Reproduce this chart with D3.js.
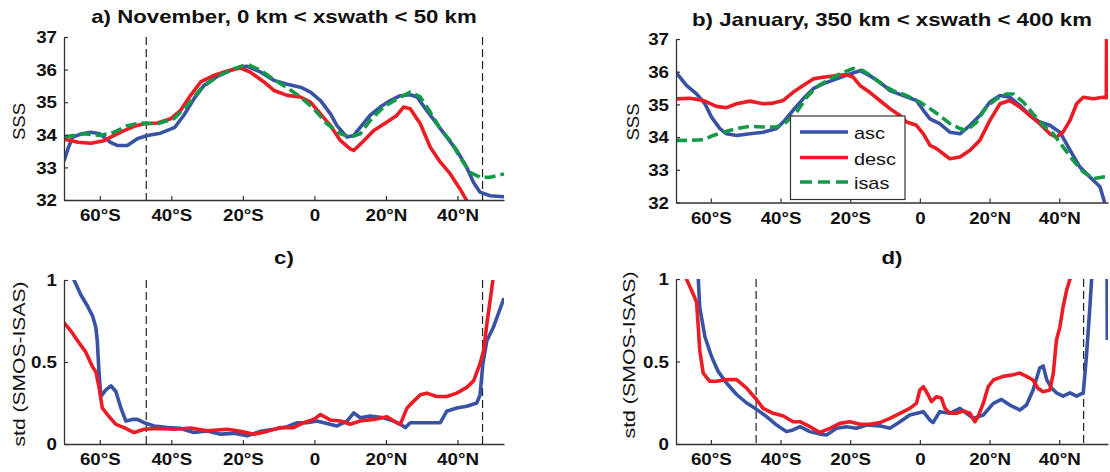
<!DOCTYPE html>
<html lang="en"><head>
<meta charset="utf-8">
<title>SSS asc/desc</title>
<script src="https://cdn.jsdelivr.net/npm/d3@7"></script>
<style>
body { margin: 0; background: #fff; }
text { font-family: "Liberation Sans", Arial, sans-serif; fill: #111; }
</style>
</head>
<body>
<script type="text/javascript">

var width = 1110;
var height = 472;

// tick values / labels
var xTicks = [-60, -40, -20, 0, 20, 40];
var xTickLabels = ["60°S", "40°S", "20°S", "0", "20°N", "40°N"];
var sssTicks = [32, 33, 34, 35, 36, 37];
var sssTickLabels = ["32", "33", "34", "35", "36", "37"];
var stdTicks = [0, 0.5, 1];
var stdTickLabels = ["0", "0.5", "1"];
var seriesNames = ["asc", "desc", "isas"];
var frontLats = [-47, 47];

// a) November SSS  [lat, value]
var novSssAsc = [[-70,33.2],[-68.8,33.6],[-67.6,33.93],[-65,34.03],[-62.5,34.08],[-60,34.03],[-57,33.77],[-55,33.67],[-52.3,33.67],[-49.5,33.88],[-46.7,33.98],[-43,34.05],[-39,34.23],[-36.5,34.6],[-33.7,35.1],[-30.9,35.51],[-27.2,35.79],[-23.4,35.98],[-20.7,36.08],[-18.8,36.1],[-15,35.92],[-11.3,35.67],[-7.6,35.55],[-3.9,35.46],[-1.1,35.31],[1.7,35.05],[4.5,34.64],[6.3,34.28],[9.1,33.93],[11,33.98],[12.8,34.23],[15.6,34.6],[18.4,34.85],[21.2,35.05],[24,35.2],[26.8,35.23],[28.7,35.16],[31.4,34.75],[34.2,34.34],[37,33.93],[39.8,33.52],[42.6,33.0],[44.5,32.54],[46.3,32.24],[49.1,32.13],[53,32.1]];
var novSssDesc = [[-70,33.87],[-66,33.77],[-62.5,33.74],[-58.8,33.82],[-56,33.98],[-53.2,34.13],[-50.4,34.26],[-47.6,34.34],[-43.9,34.36],[-40.2,34.49],[-37.4,34.75],[-34.6,35.21],[-31.8,35.62],[-28.1,35.82],[-24.4,35.96],[-20.7,36.05],[-17.9,35.92],[-14.1,35.62],[-11.3,35.36],[-7.6,35.21],[-3.9,35.16],[-1.1,35.0],[1.7,34.64],[4.5,34.28],[7.3,33.82],[10,33.57],[11,33.52],[13.8,33.82],[16.6,34.13],[20.3,34.39],[23.1,34.6],[24.9,34.85],[26.8,34.8],[29.6,34.34],[32.4,33.62],[35.2,33.16],[38,32.8],[40.7,32.34],[42.6,31.98],[43.2,31.8]];
var novSssIsas = [[-70,33.93],[-64.4,34.03],[-60,33.98],[-56,34.08],[-52.3,34.28],[-48.6,34.36],[-43.9,34.34],[-39.3,34.49],[-35.5,34.9],[-31.8,35.41],[-27.2,35.79],[-22.5,36.03],[-18.8,36.16],[-15,35.98],[-11.3,35.69],[-7.6,35.44],[-3.9,35.16],[-0.2,34.8],[3.5,34.34],[7.3,34.03],[10,33.93],[12.8,34.03],[15.6,34.44],[19.3,34.85],[23.1,35.1],[26.8,35.31],[29.6,35.16],[32.4,34.69],[35.2,34.18],[38,33.82],[40.7,33.31],[43.5,32.85],[46.3,32.7],[49.1,32.7],[53,32.8]];

// b) January SSS
var janSssAsc = [[-70,35.98],[-67,35.58],[-64.1,35.32],[-61.7,35.02],[-59.8,34.61],[-57.4,34.26],[-55.5,34.1],[-52.6,34.05],[-48.8,34.1],[-45,34.15],[-41.1,34.26],[-38.8,34.51],[-36.4,34.82],[-33.5,35.17],[-30.6,35.48],[-27.8,35.63],[-23.9,35.78],[-20.1,35.93],[-17.2,36.03],[-14.4,35.88],[-11.5,35.68],[-8.6,35.42],[-4.8,35.27],[-1,35.12],[1,34.82],[2.9,34.56],[5.7,34.41],[8.6,34.15],[11.5,34.1],[14.4,34.36],[17.2,34.66],[20.1,35.07],[23,35.27],[25.8,35.22],[28.7,34.97],[31.6,34.66],[34.4,34.46],[37.3,34.36],[40.2,34.15],[43.1,33.6],[45.9,33.09],[48.8,32.78],[51.7,32.48],[53.1,31.97],[53.4,31.5]];
var janSssDesc = [[-70,35.17],[-66,35.19],[-62.2,35.12],[-58.4,34.94],[-55.5,34.9],[-52.6,35.02],[-48.8,35.1],[-45,35.02],[-42.1,35.04],[-39.2,35.12],[-36.4,35.37],[-33.5,35.58],[-30.6,35.78],[-27.8,35.83],[-23.9,35.88],[-21.1,35.91],[-19.1,35.83],[-17.2,35.58],[-14.4,35.37],[-11.5,35.12],[-8.6,34.87],[-5.7,34.66],[-3.8,34.46],[-1,34.36],[1,34.1],[2.9,33.75],[4.8,33.65],[6.7,33.49],[8.6,33.34],[11.5,33.39],[14.4,33.6],[17.2,33.9],[20.1,34.51],[23,35.02],[25.8,35.12],[28.7,34.92],[31.6,34.66],[34.4,34.41],[37.3,34.1],[39.2,34.0],[41.1,34.15],[43.1,34.51],[45,35.02],[46.9,35.22],[49.8,35.17],[52.6,35.22],[53.5,35.2],[53.6,37.5]];
var janSssIsas = [[-70,33.9],[-66,33.9],[-62.2,33.92],[-59.3,34.05],[-56.5,34.15],[-52.6,34.26],[-48.8,34.33],[-45,34.31],[-41.1,34.31],[-38.3,34.46],[-35.4,34.76],[-32.5,35.22],[-29.7,35.53],[-25.8,35.78],[-22,35.98],[-19.1,36.1],[-16.3,36.03],[-13.4,35.83],[-10.5,35.58],[-7.7,35.42],[-3.8,35.27],[0,35.07],[2.9,34.87],[5.7,34.66],[8.6,34.41],[11.5,34.26],[13.4,34.2],[16.3,34.46],[19.1,34.92],[22,35.17],[24.9,35.32],[26.8,35.32],[29.7,35.07],[32.5,34.71],[35.4,34.36],[38.3,34.1],[41.1,33.7],[44,33.29],[46.9,32.93],[49.8,32.73],[52.6,32.78],[54,32.8]];

// c) November std(SMOS-ISAS)
var novStdAsc = [[-70,1.2],[-67.2,1.0],[-65.3,0.91],[-63.4,0.84],[-62,0.78],[-61.1,0.71],[-60.7,0.63],[-60.2,0.43],[-59.7,0.29],[-58.3,0.33],[-56.9,0.355],[-55.5,0.32],[-54.1,0.22],[-52.7,0.14],[-50.9,0.15],[-49.5,0.15],[-47.6,0.13],[-44.8,0.11],[-41.1,0.10],[-37.4,0.095],[-33.7,0.07],[-30,0.08],[-26.2,0.06],[-22.5,0.065],[-18.8,0.05],[-15.1,0.077],[-11.3,0.09],[-7.6,0.105],[-4.8,0.13],[-2,0.13],[0.7,0.14],[3.5,0.125],[6.3,0.11],[9.1,0.14],[11,0.19],[12.8,0.16],[15.6,0.17],[19.3,0.16],[22.1,0.14],[24,0.12],[25.4,0.10],[26.8,0.13],[30.5,0.13],[35.2,0.13],[37,0.2],[39.8,0.22],[42.6,0.23],[45.4,0.25],[46.3,0.30],[47.1,0.49],[48.2,0.63],[50,0.71],[53,0.89]];
var novStdDesc = [[-70,0.74],[-68.1,0.69],[-66.2,0.63],[-63.9,0.56],[-62,0.47],[-61.1,0.44],[-60.2,0.345],[-59.3,0.22],[-57.9,0.18],[-55.5,0.12],[-53.2,0.10],[-50.4,0.07],[-47.6,0.09],[-43.9,0.095],[-39.3,0.09],[-34.6,0.097],[-30,0.08],[-24.4,0.09],[-20.7,0.077],[-16.9,0.06],[-13.2,0.077],[-9.5,0.1],[-5.8,0.1],[-3,0.13],[-0.2,0.15],[1.7,0.18],[4.5,0.146],[7.3,0.14],[10,0.12],[12.8,0.14],[16.6,0.15],[20.3,0.166],[23.1,0.13],[24,0.12],[25.9,0.22],[27.7,0.26],[29.6,0.30],[31.4,0.31],[34.2,0.29],[37,0.29],[39.8,0.31],[42.6,0.345],[44.5,0.385],[46.3,0.49],[47.3,0.57],[48.2,0.73],[49.1,0.87],[49.9,1.0],[50.3,1.15]];

// d) January std(SMOS-ISAS)
var janStdAsc = [[-63.8,1.1],[-63.6,1.0],[-63.2,0.83],[-61.7,0.65],[-59.8,0.53],[-57.9,0.44],[-55.5,0.37],[-52.6,0.30],[-49.8,0.25],[-46.9,0.21],[-44,0.166],[-41.1,0.115],[-38.3,0.075],[-36.4,0.085],[-34.4,0.105],[-31.6,0.075],[-28.7,0.06],[-26.8,0.055],[-23.9,0.095],[-21.1,0.105],[-18.2,0.095],[-15.3,0.115],[-11.5,0.11],[-8.6,0.095],[-5.7,0.135],[-2.9,0.176],[1,0.196],[2.9,0.145],[3.8,0.13],[5.7,0.196],[8.6,0.186],[11.5,0.216],[13.4,0.186],[15.3,0.155],[18.2,0.176],[21.1,0.246],[23.4,0.27],[25.8,0.236],[28.7,0.206],[30.6,0.236],[32.5,0.327],[34.4,0.46],[35.4,0.473],[36.4,0.39],[37.8,0.34],[39.2,0.31],[41.1,0.29],[43.1,0.31],[45,0.29],[46.9,0.31],[47.8,0.53],[48.8,0.83],[49.3,1.0],[49.6,1.2],[53.7,1.2],[53.8,0.63]];
var janStdDesc = [[-67.5,1.05],[-67,1.0],[-65.1,0.91],[-64.1,0.86],[-63.6,0.71],[-63.2,0.57],[-62.2,0.43],[-60.3,0.38],[-58.4,0.38],[-55.5,0.39],[-52.6,0.39],[-49.8,0.34],[-46.9,0.27],[-45,0.216],[-42.1,0.186],[-39.2,0.17],[-36.4,0.135],[-34.4,0.135],[-31.6,0.105],[-28.7,0.07],[-25.8,0.095],[-23,0.125],[-20.1,0.135],[-17.2,0.12],[-14.4,0.12],[-11.5,0.13],[-8.6,0.155],[-5.7,0.186],[-2.9,0.216],[-1,0.246],[0,0.327],[1,0.347],[2.4,0.297],[3.3,0.257],[4.8,0.287],[6.2,0.277],[7.2,0.216],[8.6,0.186],[10.5,0.186],[12.4,0.2],[14.4,0.186],[15.8,0.135],[16.7,0.166],[18.2,0.246],[19.6,0.347],[21.1,0.388],[23.9,0.41],[26.8,0.42],[28.7,0.43],[30.6,0.41],[32.5,0.388],[33.9,0.337],[35.4,0.317],[37.3,0.327],[38.3,0.43],[39.2,0.63],[40.2,0.71],[41.1,0.83],[42.1,0.93],[43.1,1.0],[43.5,1.1]];

var colors = {asc: "#3853a4", desc: "#ec1c24", isas: "#139a48"};
var STRETCH = 1.17; // the figure is a bit wider than tall

var panels = [
    {id: "a", x0: 64, x1: 504, y0: 37, y1: 200, xDom: [-70, 53], yDom: [32, 37],
     yTicks: sssTicks, yTickLabels: sssTickLabels, title: "a) November, 0 km < xswath < 50 km", titleY: 22.5,
     ylabel: "SSS", ylx: 25, yly: 121.5, yll: 37, fronts: true,
     series: [["asc", novSssAsc], ["desc", novSssDesc], ["isas", novSssIsas]]},
    {id: "b", x0: 676, x1: 1108, y0: 39, y1: 202.5, xDom: [-70, 54], yDom: [32, 37],
     yTicks: sssTicks, yTickLabels: sssTickLabels, title: "b) January, 350 km < xswath < 400 km", titleY: 25.5,
     ylabel: "SSS", ylx: 639, yly: 122, yll: 37, fronts: false, legend: true,
     series: [["asc", janSssAsc], ["desc", janSssDesc], ["isas", janSssIsas]]},
    {id: "c", x0: 64, x1: 504, y0: 280, y1: 444, xDom: [-70, 53], yDom: [0, 1],
     yTicks: stdTicks, yTickLabels: stdTickLabels, title: "c)", titleY: 264,
     ylabel: "std (SMOS-ISAS)", ylx: 25, yly: 364, yll: 165, fronts: true,
     series: [["asc", novStdAsc], ["desc", novStdDesc]]},
    {id: "d", x0: 676, x1: 1108, y0: 279, y1: 444, xDom: [-70, 54], yDom: [0, 1],
     yTicks: stdTicks, yTickLabels: stdTickLabels, title: "d)", titleY: 264,
     ylabel: "std (SMOS-ISAS)", ylx: 635, yly: 355, yll: 167, fronts: true,
     series: [["asc", janStdAsc], ["desc", janStdDesc]]}
];

var svg = d3.select("body").append("svg")
    .attr("width", width)
    .attr("height", height);

function stretch(sel) {
    sel.each(function() {
        var L = this.getComputedTextLength();
        d3.select(this).attr("textLength", L * STRETCH).attr("lengthAdjust", "spacingAndGlyphs");
    });
}

panels.forEach(function(p) {
    var x = d3.scaleLinear().domain(p.xDom).range([p.x0, p.x1]);
    var y = d3.scaleLinear().domain(p.yDom).range([p.y1, p.y0]);

    svg.append("clipPath").attr("id", "clip-" + p.id)
        .append("rect")
        .attr("x", p.x0).attr("y", p.y0)
        .attr("width", p.x1 - p.x0).attr("height", p.y1 - p.y0);

    var g = svg.append("g").attr("clip-path", "url(#clip-" + p.id + ")");

    if (p.fronts) {
        g.selectAll(".front")
            .data(frontLats)
            .enter()
            .append("line")
            .attr("x1", function(d) { return x(d); })
            .attr("x2", function(d) { return x(d); })
            .attr("y1", p.y0).attr("y2", p.y1)
            .attr("stroke", "#222")
            .attr("stroke-width", 1.2)
            .attr("stroke-dasharray", "8,4");
    }

    var line = d3.line()
        .x(function(d) { return x(d[0]); })
        .y(function(d) { return y(d[1]); });

    g.selectAll(".series")
        .data(p.series)
        .enter()
        .append("path")
        .attr("d", function(d) { return line(d[1]); })
        .attr("fill", "none")
        .attr("stroke", function(d) { return colors[d[0]]; })
        .attr("stroke-width", 3.6)
        .attr("stroke-linejoin", "round")
        .attr("stroke-dasharray", function(d) { return d[0] == "isas" ? "11,5" : null; });

    // axes
    var xAxis = d3.axisBottom(x)
        .tickValues(xTicks)
        .tickFormat(function(d, i) { return xTickLabels[i]; })
        .tickSizeInner(-4).tickSizeOuter(0);
    var gx = svg.append("g")
        .attr("transform", "translate(0," + p.y1 + ")")
        .call(xAxis);

    var yAxis = d3.axisLeft(y)
        .tickValues(p.yTicks)
        .tickFormat(function(d, i) { return p.yTickLabels[i]; })
        .tickSizeInner(-4).tickSizeOuter(0).tickPadding(7);
    var gy = svg.append("g")
        .attr("transform", "translate(" + p.x0 + ",0)")
        .call(yAxis);

    [gx, gy].forEach(function(a) {
        a.attr("font-family", null).attr("font-size", null);
        a.select(".domain").attr("stroke", "#333").attr("stroke-width", 1.3);
        a.selectAll(".tick line").attr("stroke", "#333").attr("stroke-width", 1.2);
        a.selectAll(".tick text")
            .attr("fill", "#111")
            .style("font-size", "16px")
            .style("font-weight", "bold");
    });
    gx.selectAll(".tick text").attr("y", 21).attr("dy", null);
    gy.selectAll(".tick text").attr("dy", "0.36em");
    stretch(gx.selectAll(".tick text"));
    stretch(gy.selectAll(".tick text"));

    // title
    var t = svg.append("text")
        .attr("x", (p.x0 + p.x1) / 2)
        .attr("y", p.titleY)
        .attr("text-anchor", "middle")
        .style("font-size", "19px")
        .style("font-weight", "bold")
        .text(p.title);
    stretch(t);

    // y label
    svg.append("text")
        .attr("transform", "translate(" + p.ylx + "," + p.yly + ") rotate(-90)")
        .attr("text-anchor", "middle")
        .attr("textLength", p.yll)
        .attr("lengthAdjust", "spacingAndGlyphs")
        .style("font-size", "16px")
        .text(p.ylabel);

    if (p.legend) {
        var lg = svg.append("g");
        lg.append("rect")
            .attr("x", 790.5).attr("y", 116)
            .attr("width", 114.5).attr("height", 83.5)
            .attr("fill", "#fff")
            .attr("stroke", "#333")
            .attr("stroke-width", 1.2);
        var rowY = [132, 157.5, 182];
        var rows = lg.selectAll(".row")
            .data(seriesNames)
            .enter()
            .append("g")
            .attr("transform", function(d, i) { return "translate(0," + rowY[i] + ")"; });
        rows.append("line")
            .attr("x1", 800).attr("x2", 848)
            .attr("stroke", function(d) { return colors[d]; })
            .attr("stroke-width", 3.6)
            .attr("stroke-dasharray", function(d) { return d == "isas" ? "12,6" : null; });
        var lt = rows.append("text")
            .attr("x", 854).attr("y", 7)
            .style("font-size", "17px")
            .text(function(d) { return d; });
        stretch(lt);
    }
});

</script>
</body></html>
